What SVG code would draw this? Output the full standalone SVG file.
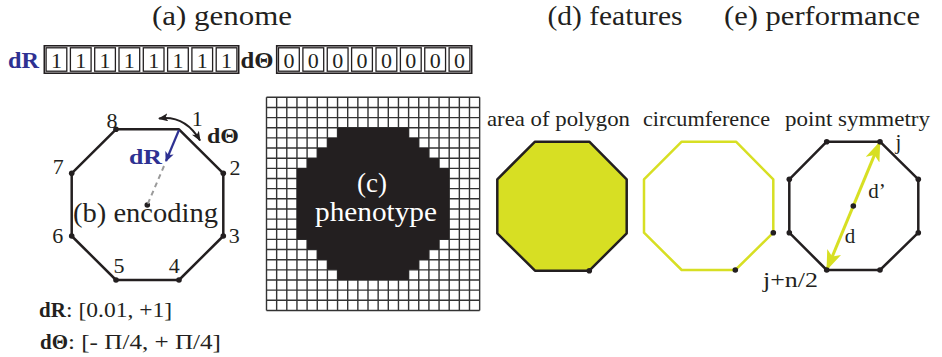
<svg xmlns="http://www.w3.org/2000/svg" width="942" height="357" viewBox="0 0 942 357">
<defs>
<marker id="ya" viewBox="0 0 20 15" refX="19.5" refY="7.5" markerWidth="20" markerHeight="15" markerUnits="userSpaceOnUse" orient="auto-start-reverse"><path d="M0,0 L20,7.5 L0,15 L5,7.5 Z" fill="#d7df23"/></marker>
<marker id="ka" viewBox="0 0 10 8" refX="9" refY="4" markerWidth="10" markerHeight="8" markerUnits="userSpaceOnUse" orient="auto-start-reverse"><path d="M0,0 L10,4 L0,8 L2.5,4 Z" fill="#231f20"/></marker>
<marker id="ba" viewBox="0 0 10 9" refX="9" refY="4.5" markerWidth="10" markerHeight="9" markerUnits="userSpaceOnUse" orient="auto"><path d="M0,0 L10,4.5 L0,9 L2.5,4.5 Z" fill="#2e3192"/></marker>
</defs>
<rect width="942" height="357" fill="#fff"/>

<g id="titles" fill="#231f20">
<text style="font-family:'Liberation Serif',serif" font-size="27" text-anchor="middle" x="222" y="25" textLength="140" lengthAdjust="spacingAndGlyphs">(a) genome</text>
<text style="font-family:'Liberation Serif',serif" font-size="27" text-anchor="middle" x="615" y="25" textLength="135" lengthAdjust="spacingAndGlyphs">(d) features</text>
<text style="font-family:'Liberation Serif',serif" font-size="27" text-anchor="middle" x="822" y="25" textLength="196" lengthAdjust="spacingAndGlyphs">(e) performance</text>
</g>

<g id="genome" fill="#231f20">
<text style="font-family:'Liberation Serif',serif" font-weight="bold" fill="#2e3192" x="8" y="68" font-size="24" textLength="31" lengthAdjust="spacingAndGlyphs">dR</text>
<rect x="44.3" y="45.8" width="194.4" height="27.4" fill="none" stroke="#231f20" stroke-width="1.6"/>
<g fill="#fff" stroke="#231f20" stroke-width="1.3">
<rect x="46.1" y="47.8" width="20.7" height="23.4"/>
<rect x="70.4" y="47.8" width="20.7" height="23.4"/>
<rect x="94.7" y="47.8" width="20.7" height="23.4"/>
<rect x="119" y="47.8" width="20.7" height="23.4"/>
<rect x="143.3" y="47.8" width="20.7" height="23.4"/>
<rect x="167.6" y="47.8" width="20.7" height="23.4"/>
<rect x="191.9" y="47.8" width="20.7" height="23.4"/>
<rect x="216.2" y="47.8" width="20.7" height="23.4"/>
</g>
<text style="font-family:'Liberation Serif',serif" font-size="22" text-anchor="middle" x="56.45" y="67.5">1</text>
<text style="font-family:'Liberation Serif',serif" font-size="22" text-anchor="middle" x="80.75" y="67.5">1</text>
<text style="font-family:'Liberation Serif',serif" font-size="22" text-anchor="middle" x="105.05" y="67.5">1</text>
<text style="font-family:'Liberation Serif',serif" font-size="22" text-anchor="middle" x="129.35" y="67.5">1</text>
<text style="font-family:'Liberation Serif',serif" font-size="22" text-anchor="middle" x="153.65" y="67.5">1</text>
<text style="font-family:'Liberation Serif',serif" font-size="22" text-anchor="middle" x="177.95" y="67.5">1</text>
<text style="font-family:'Liberation Serif',serif" font-size="22" text-anchor="middle" x="202.25" y="67.5">1</text>
<text style="font-family:'Liberation Serif',serif" font-size="22" text-anchor="middle" x="226.55" y="67.5">1</text>
<text style="font-family:'Liberation Serif',serif" font-weight="bold" x="240.5" y="68" font-size="24" textLength="33" lengthAdjust="spacingAndGlyphs">dΘ</text>
<rect x="276.7" y="45.8" width="195" height="27.4" fill="none" stroke="#231f20" stroke-width="1.6"/>
<g fill="#fff" stroke="#231f20" stroke-width="1.3">
<rect x="278.5" y="47.8" width="20.8" height="23.4"/>
<rect x="302.9" y="47.8" width="20.8" height="23.4"/>
<rect x="327.25" y="47.8" width="20.8" height="23.4"/>
<rect x="351.6" y="47.8" width="20.8" height="23.4"/>
<rect x="376" y="47.8" width="20.8" height="23.4"/>
<rect x="400.4" y="47.8" width="20.8" height="23.4"/>
<rect x="424.75" y="47.8" width="20.8" height="23.4"/>
<rect x="449.1" y="47.8" width="20.8" height="23.4"/>
</g>
<text style="font-family:'Liberation Serif',serif" font-size="22" text-anchor="middle" x="288.89" y="67.5">0</text>
<text style="font-family:'Liberation Serif',serif" font-size="22" text-anchor="middle" x="313.26" y="67.5">0</text>
<text style="font-family:'Liberation Serif',serif" font-size="22" text-anchor="middle" x="337.64" y="67.5">0</text>
<text style="font-family:'Liberation Serif',serif" font-size="22" text-anchor="middle" x="362.01" y="67.5">0</text>
<text style="font-family:'Liberation Serif',serif" font-size="22" text-anchor="middle" x="386.39" y="67.5">0</text>
<text style="font-family:'Liberation Serif',serif" font-size="22" text-anchor="middle" x="410.76" y="67.5">0</text>
<text style="font-family:'Liberation Serif',serif" font-size="22" text-anchor="middle" x="435.14" y="67.5">0</text>
<text style="font-family:'Liberation Serif',serif" font-size="22" text-anchor="middle" x="459.51" y="67.5">0</text>
</g>

<g id="encoding" fill="#231f20">
<polygon points="116,129.3 179,129.3 223.3,173.3 223.3,236 179,280 116,280 71.7,236 71.7,173.3" fill="none" stroke="#231f20" stroke-width="2.5" stroke-linejoin="round"/>
<circle cx="116" cy="129.3" r="2.8"/>
<circle cx="223.3" cy="173.3" r="2.8"/>
<circle cx="223.3" cy="236" r="2.8"/>
<circle cx="179" cy="280" r="2.8"/>
<circle cx="116" cy="280" r="2.8"/>
<circle cx="71.7" cy="236" r="2.8"/>
<circle cx="71.7" cy="173.3" r="2.8"/>
<circle cx="147.3" cy="205" r="2.8"/>
<text style="font-family:'Liberation Serif',serif" font-size="22" text-anchor="middle" x="112" y="127.5">8</text>
<text style="font-family:'Liberation Serif',serif" font-size="22" text-anchor="middle" x="197.3" y="126">1</text>
<text style="font-family:'Liberation Serif',serif" font-size="22" text-anchor="middle" x="235" y="175">2</text>
<text style="font-family:'Liberation Serif',serif" font-size="22" text-anchor="middle" x="234.3" y="242.5">3</text>
<text style="font-family:'Liberation Serif',serif" font-size="22" text-anchor="middle" x="174.3" y="272.5">4</text>
<text style="font-family:'Liberation Serif',serif" font-size="22" text-anchor="middle" x="119" y="272.5">5</text>
<text style="font-family:'Liberation Serif',serif" font-size="22" text-anchor="middle" x="57.7" y="242.5">6</text>
<text style="font-family:'Liberation Serif',serif" font-size="22" text-anchor="middle" x="58.3" y="174">7</text>
<text style="font-family:'Liberation Serif',serif" font-weight="bold" x="207" y="143" font-size="22" textLength="32" lengthAdjust="spacingAndGlyphs">dΘ</text>
<text style="font-family:'Liberation Serif',serif" font-weight="bold" fill="#2e3192" x="129" y="163.5" font-size="22" textLength="33" lengthAdjust="spacingAndGlyphs">dR</text>
<text style="font-family:'Liberation Serif',serif" text-anchor="middle" x="145.5" y="222" font-size="27" textLength="145" lengthAdjust="spacingAndGlyphs">(b) encoding</text>
</g>

<g id="connectors">
<line x1="164" y1="166" x2="147.3" y2="205" stroke="#9a9a9a" stroke-width="2" stroke-dasharray="5 4"/>
<line x1="179" y1="130" x2="166" y2="161" stroke="#2e3192" stroke-width="2.2" marker-end="url(#ba)"/>
<path d="M159,118.5 Q185,115 200,140.5" fill="none" stroke="#231f20" stroke-width="2" marker-start="url(#ka)" marker-end="url(#ka)"/>
<line x1="880" y1="141.7" x2="826.7" y2="270" stroke="#d7df23" stroke-width="3" marker-start="url(#ya)" marker-end="url(#ya)"/>
</g>

<g id="ranges" fill="#231f20">
<text style="font-family:'Liberation Serif',serif" font-size="21" font-weight="bold" x="39" y="317">dR</text>
<text style="font-family:'Liberation Serif',serif" font-size="21" x="66" y="317" textLength="106" lengthAdjust="spacingAndGlyphs">: [0.01, +1]</text>
<text style="font-family:'Liberation Serif',serif" font-size="21" font-weight="bold" x="40" y="349">dΘ</text>
<text style="font-family:'Liberation Serif',serif" font-size="21" x="68" y="349" textLength="153" lengthAdjust="spacingAndGlyphs">: [- Π/4, + Π/4]</text>
</g>

<g id="phenotype">
<rect x="266.5" y="97.3" width="213.15" height="213.15" fill="#fff"/>
<path fill="none" stroke="#333" stroke-width="1.4" d="M266.5 97.3V310.45M276.65 97.3V310.45M286.8 97.3V310.45M296.95 97.3V310.45M307.1 97.3V310.45M317.25 97.3V310.45M327.4 97.3V310.45M337.55 97.3V310.45M347.7 97.3V310.45M357.85 97.3V310.45M368 97.3V310.45M378.15 97.3V310.45M388.3 97.3V310.45M398.45 97.3V310.45M408.6 97.3V310.45M418.75 97.3V310.45M428.9 97.3V310.45M439.05 97.3V310.45M449.2 97.3V310.45M459.35 97.3V310.45M469.5 97.3V310.45M479.65 97.3V310.45M266.5 97.3H479.65M266.5 107.45H479.65M266.5 117.6H479.65M266.5 127.75H479.65M266.5 137.9H479.65M266.5 148.05H479.65M266.5 158.2H479.65M266.5 168.35H479.65M266.5 178.5H479.65M266.5 188.65H479.65M266.5 198.8H479.65M266.5 208.95H479.65M266.5 219.1H479.65M266.5 229.25H479.65M266.5 239.4H479.65M266.5 249.55H479.65M266.5 259.7H479.65M266.5 269.85H479.65M266.5 280H479.65M266.5 290.15H479.65M266.5 300.3H479.65M266.5 310.45H479.65"/>
<polygon transform="translate(266.5 97.3) scale(10.15)" fill="#231f20" points="7,3 14,3 14,4 15,4 15,5 16,5 16,6 17,6 17,7 18,7 18,14 17,14 17,15 16,15 16,16 15,16 15,17 14,17 14,18 7,18 7,17 6,17 6,16 5,16 5,15 4,15 4,14 3,14 3,7 4,7 4,6 5,6 5,5 6,5 6,4 7,4"/>
<text style="font-family:'Liberation Serif',serif" text-anchor="middle" x="372" y="192" font-size="27" fill="#fff">(c)</text>
<text style="font-family:'Liberation Serif',serif" text-anchor="middle" x="376" y="221" font-size="27" fill="#fff" textLength="122" lengthAdjust="spacingAndGlyphs">phenotype</text>
</g>

<g id="area" fill="#231f20">
<text style="font-family:'Liberation Serif',serif" text-anchor="middle" font-size="21" x="558.5" y="126" textLength="143" lengthAdjust="spacingAndGlyphs">area of polygon</text>
<polygon points="535,141.7 589.3,141.7 626.7,179.3 626.7,233.3 589.3,270.7 535,270.7 497.3,233.3 497.3,179.3" fill="#d7df23" stroke="#231f20" stroke-width="2.5" stroke-linejoin="round"/>
<circle cx="589.3" cy="270.7" r="2.8"/>
</g>

<g id="circumference" fill="#231f20">
<text style="font-family:'Liberation Serif',serif" text-anchor="middle" font-size="21" x="706.5" y="126" textLength="127" lengthAdjust="spacingAndGlyphs">circumference</text>
<polygon points="681.7,141.7 736,141.7 773.3,179.3 773.3,232.7 735.3,270 681.7,270 644,232.7 644,179.3" fill="none" stroke="#d7df23" stroke-width="2.5" stroke-linejoin="round"/>
<circle cx="773.3" cy="232.7" r="2.8"/>
<circle cx="735.3" cy="270" r="2.8"/>
</g>

<g id="symmetry" fill="#231f20">
<text style="font-family:'Liberation Serif',serif" text-anchor="middle" font-size="21" x="857.5" y="126" textLength="145" lengthAdjust="spacingAndGlyphs">point symmetry</text>
<polygon points="826.7,141.7 880,141.7 918.3,179.3 918.3,232.7 880,270 826.7,270 789.3,232.7 789.3,179.3" fill="none" stroke="#231f20" stroke-width="2.5" stroke-linejoin="round"/>
<circle cx="826.7" cy="141.7" r="2.8"/>
<circle cx="880" cy="141.7" r="2.8"/>
<circle cx="918.3" cy="179.3" r="2.8"/>
<circle cx="918.3" cy="232.7" r="2.8"/>
<circle cx="880" cy="270" r="2.8"/>
<circle cx="826.7" cy="270" r="2.8"/>
<circle cx="789.3" cy="232.7" r="2.8"/>
<circle cx="789.3" cy="179.3" r="2.8"/>
<circle cx="853.3" cy="206" r="2.8"/>
<text style="font-family:'Liberation Serif',serif" font-size="21" text-anchor="middle" x="898.5" y="149">j</text>
<text style="font-family:'Liberation Serif',serif" font-size="21" text-anchor="middle" x="877" y="198">d’</text>
<text style="font-family:'Liberation Serif',serif" font-size="21" text-anchor="middle" x="850" y="243">d</text>
<text style="font-family:'Liberation Serif',serif" font-size="21" text-anchor="middle" x="790.5" y="287" textLength="55" lengthAdjust="spacingAndGlyphs">j+n/2</text>
</g>
</svg>
